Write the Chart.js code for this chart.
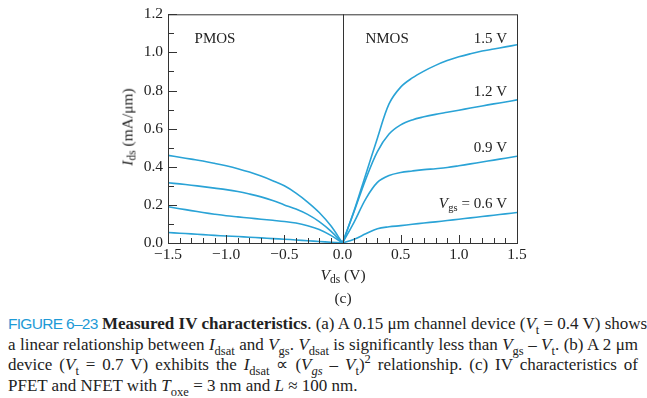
<!DOCTYPE html>
<html>
<head>
<meta charset="utf-8">
<script src="https://cdn.jsdelivr.net/npm/chart.js@4"></script>
<style>
  body { margin: 0; background: #fff; width: 647px; height: 398px; overflow: hidden; position: relative; font-family: "Liberation Serif", serif; color: #222; }
  #wrap { position: absolute; left: 0; top: 0; width: 530px; height: 275px; }
  .ytitle { position: absolute; left: 128px; top: 127px; transform: translate(-50%, -50%) rotate(-90deg); font-size: 15.5px; white-space: nowrap; }
  .xtitle { position: absolute; left: 343px; top: 275px; transform: translate(-50%, -50%); font-size: 15.5px; white-space: nowrap; }
  .sub { position: absolute; left: 343px; top: 298px; transform: translate(-50%, -50%); font-size: 15.5px; }
  .sm { font-size: 11.5px; vertical-align: -3px; }
  #cap { position: absolute; left: 8px; top: 314px; width: 630px; font-size: 17px; line-height: 20.7px; }
  #cap div { text-align: justify; text-align-last: justify; white-space: nowrap; }
  #cap div.last { text-align-last: left; }
  .fig { font-family: "Liberation Sans", sans-serif; color: #1e9ad6; font-size: 15.5px; letter-spacing: -0.7px; }
  sub { font-size: 12.5px; vertical-align: -5px; line-height: 0; }
  sup { font-size: 12.5px; vertical-align: 7px; line-height: 0; }
</style>
</head>
<body>
<div id="wrap"><canvas id="ivChart"></canvas></div>
<div class="ytitle"><i>I</i><span class="sm">ds</span> (mA/μm)</div>
<div class="xtitle"><i>V</i><span class="sm">ds</span> (V)</div>
<div class="sub">(c)</div>
<div id="cap">
  <div><span class="fig">FIGURE 6–23</span> <b>Measured IV characteristics</b>. (a) A 0.15 μm channel device (<i>V</i><sub>t</sub> = 0.4 V) shows</div>
  <div>a linear relationship between <i>I</i><sub>dsat</sub> and <i>V</i><sub>gs</sub>. <i>V</i><sub>dsat</sub> is significantly less than <i>V</i><sub>gs</sub> – <i>V</i><sub>t</sub>. (b) A 2 μm</div>
  <div>device (<i>V</i><sub>t</sub> = 0.7 V) exhibits the <i>I</i><sub>dsat</sub> ∝ (<i>V<sub>gs</sub></i> – <i>V</i><sub>t</sub>)<sup>2</sup> relationship. (c) IV characteristics of</div>
  <div class="last">PFET and NFET with <i>T</i><sub>oxe</sub> = 3 nm and <i>L</i> ≈ 100 nm.</div>
</div>
<script>
// drain voltages (V)
const nmosVds = [0, 0.1, 0.2, 0.3, 0.4, 0.5, 0.6, 0.7, 0.8, 0.9, 1.0, 1.1, 1.2, 1.3, 1.4, 1.5];
const pmosVds = [-1.5, -1.4, -1.3, -1.2, -1.1, -1.0, -0.9, -0.8, -0.7, -0.6, -0.5, -0.4, -0.3, -0.2, -0.1, 0];

// NMOS currents (mA/um) for Vgs = 1.5, 1.2, 0.9, 0.6
const nmos15 = [0, 0.17, 0.36, 0.55, 0.73, 0.818, 0.866, 0.902, 0.932, 0.957, 0.977, 0.993, 1.007, 1.018, 1.029, 1.04];
const nmos12 = [0, 0.165, 0.335, 0.48, 0.572, 0.62, 0.646, 0.662, 0.675, 0.686, 0.697, 0.708, 0.719, 0.73, 0.74, 0.751];
const nmos09 = [0, 0.11, 0.232, 0.318, 0.354, 0.37, 0.378, 0.385, 0.39, 0.396, 0.405, 0.415, 0.425, 0.435, 0.445, 0.455];
const nmos06 = [0, 0.02, 0.048, 0.075, 0.085, 0.091, 0.098, 0.105, 0.111, 0.118, 0.125, 0.132, 0.139, 0.146, 0.153, 0.16];

// PMOS currents (magnitude)
const pmos15 = [0.46, 0.45, 0.44, 0.43, 0.418, 0.405, 0.39, 0.372, 0.351, 0.327, 0.3, 0.262, 0.215, 0.16, 0.09, 0];
const pmos12 = [0.316, 0.31, 0.303, 0.296, 0.288, 0.28, 0.27, 0.257, 0.242, 0.223, 0.2, 0.178, 0.15, 0.112, 0.062, 0];
const pmos09 = [0.19, 0.18, 0.17, 0.16, 0.151, 0.143, 0.137, 0.131, 0.125, 0.119, 0.113, 0.105, 0.091, 0.071, 0.04, 0];
const pmos06 = [0.055, 0.051, 0.048, 0.044, 0.04, 0.037, 0.034, 0.03, 0.027, 0.023, 0.02, 0.016, 0.012, 0.008, 0.004, 0];

const xTicks = [-1.5, -1.0, -0.5, 0, 0.5, 1.0, 1.5];
const yTicks = [0, 0.2, 0.4, 0.6, 0.8, 1.0, 1.2];

const lineColor = '#2aa3d6';
const frameColor = '#333';

function pts(xs, ys) {
  return xs.map((x, i) => ({ x: x, y: ys[i] }));
}
function fmt(v) {
  return v.toFixed(1).replace('-', '\u2212');
}

const curves = [
  pts(nmosVds, nmos15), pts(nmosVds, nmos12), pts(nmosVds, nmos09), pts(nmosVds, nmos06),
  pts(pmosVds, pmos15), pts(pmosVds, pmos12), pts(pmosVds, pmos09), pts(pmosVds, pmos06)
];

// frame, inward ticks, zero line and curve labels
const decor = {
  id: 'decor',
  afterDraw(chart) {
    const c = chart.ctx;
    const a = chart.chartArea;
    const xs = chart.scales.x, ys = chart.scales.y;
    c.save();
    c.strokeStyle = frameColor;
    c.lineWidth = 1;
    c.strokeRect(a.left + 0.5, a.top + 0.5, a.right - a.left, a.bottom - a.top);
    const x0 = Math.round(xs.getPixelForValue(0)) + 0.5;
    c.beginPath();
    c.moveTo(x0, a.top);
    c.lineTo(x0, a.bottom);
    c.stroke();
    c.beginPath();
    for (let i = -15; i <= 15; i++) {
      const px = Math.round(xs.getPixelForValue(i / 10)) + 0.5;
      const len = i % 5 === 0 ? 8 : 5;
      c.moveTo(px, a.bottom);
      c.lineTo(px, a.bottom - len);
    }
    for (let i = 0; i <= 12; i++) {
      const py = Math.round(ys.getPixelForValue(i / 10)) + 0.5;
      const len = i % 2 === 0 ? 9 : 6;
      c.moveTo(a.left, py);
      c.lineTo(a.left + len, py);
    }
    c.stroke();

    c.fillStyle = '#222';
    c.font = '15px "Liberation Serif"';
    c.textBaseline = 'middle';
    c.textAlign = 'center';
    c.fillText('PMOS', xs.getPixelForValue(-1.096), ys.getPixelForValue(1.072));
    c.fillText('NMOS', xs.getPixelForValue(0.383), ys.getPixelForValue(1.072));
    c.textAlign = 'right';
    const xr = xs.getPixelForValue(1.414);
    c.fillText('1.5 V', xr, ys.getPixelForValue(1.072));
    c.fillText('1.2 V', xr, ys.getPixelForValue(0.792));
    c.fillText('0.9 V', xr, ys.getPixelForValue(0.5));
    // V_gs = 0.6 V
    const yv = ys.getPixelForValue(0.204);
    const rest = ' = 0.6 V';
    const wRest = c.measureText(rest).width;
    c.fillText(rest, xr, yv);
    c.font = '10.5px "Liberation Serif"';
    const wSub = c.measureText('gs').width;
    c.fillText('gs', xr - wRest, yv + 4);
    c.font = 'italic 15px "Liberation Serif"';
    c.fillText('V', xr - wRest - wSub - 0.5, yv);
    c.restore();
  }
};

const ctx = document.getElementById('ivChart').getContext('2d');
new Chart(ctx, {
  type: 'line',
  data: {
    datasets: curves.map(d => ({
      data: d,
      borderColor: lineColor,
      borderWidth: 1.6,
      pointRadius: 0,
      fill: false,
      tension: 0.35
    }))
  },
  options: {
    responsive: true,
    maintainAspectRatio: false,
    animation: false,
    layout: { padding: { top: 8, right: 13, left: 0, bottom: 0 } },
    plugins: { legend: { display: false }, tooltip: { enabled: false } },
    scales: {
      x: {
        type: 'linear',
        min: -1.5,
        max: 1.5,
        afterBuildTicks: s => { s.ticks = xTicks.map(v => ({ value: v })); },
        afterFit: s => { s.height = 32; },
        grid: { drawOnChartArea: false, drawTicks: false },
        border: { display: false },
        ticks: { callback: fmt, color: '#222', padding: 3, maxRotation: 0, font: { family: 'Liberation Serif', size: 15.5 } }
      },
      y: {
        min: 0,
        max: 1.2,
        afterBuildTicks: s => { s.ticks = yTicks.map(v => ({ value: v })); },
        afterFit: s => { s.width = 168; },
        grid: { drawOnChartArea: false, drawTicks: false },
        border: { display: false },
        ticks: { callback: fmt, color: '#222', padding: 5, font: { family: 'Liberation Serif', size: 15.5 } }
      }
    }
  },
  plugins: [decor]
});
</script>
</body>
</html>
